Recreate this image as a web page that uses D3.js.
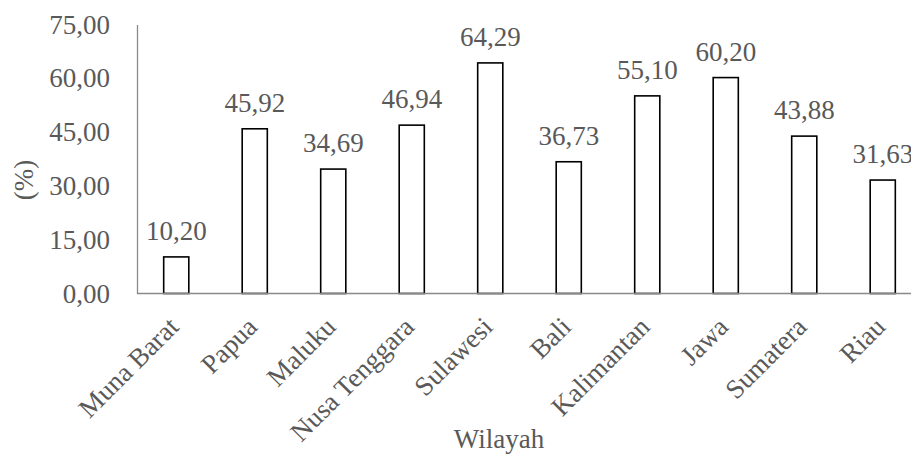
<!DOCTYPE html>
<html><head><meta charset="utf-8">
<script src="https://cdn.jsdelivr.net/npm/d3@7"></script>
<style>body{margin:0;background:#fff}svg{display:block}text{font-family:"Liberation Serif","Times New Roman",serif;fill:#595959}</style>
</head><body>
<svg id="c" width="911" height="461"></svg>
<script>
const categories = ["Muna Barat","Papua","Maluku","Nusa Tenggara","Sulawesi","Bali","Kalimantan","Jawa","Sumatera","Riau"];
const values = [10.20,45.92,34.69,46.94,64.29,36.73,55.10,60.20,43.88,31.63];
const yTicks = [0,15,30,45,60,75];
const yTitle = "(%)";
const xTitle = "Wilayah";

const svg = d3.select("#c");
const x = d3.scaleBand().domain(categories).range([137,922]).paddingInner(0.68).paddingOuter(0.34);
const y = d3.scaleLinear().domain([0,75]).range([293.5,24.5]);
const fmt = v => d3.format(".2f")(v).replace(".", ",");

// y axis
const ya = svg.append("g").attr("transform","translate(137,0)")
  .call(d3.axisLeft(y).tickValues(yTicks).tickSize(0).tickPadding(27).tickFormat(fmt));
ya.select(".domain").attr("stroke","#898989").attr("stroke-width",1.3);
ya.selectAll("text").attr("font-size",27).attr("fill","#595959").attr("font-family","Liberation Serif");

// bars
svg.append("g").selectAll("rect").data(values).join("rect")
  .attr("x",(d,i)=>x(categories[i]))
  .attr("y",d=>y(d))
  .attr("width",x.bandwidth())
  .attr("height",d=>y(0)-y(d))
  .attr("fill","#fff").attr("stroke","#000").attr("stroke-width",1.6);

// x axis line
svg.append("line").attr("x1",137).attr("x2",922).attr("y1",y(0)).attr("y2",y(0))
  .attr("stroke","#898989").attr("stroke-width",1.3);

// value labels
svg.append("g").selectAll("text").data(values).join("text")
  .attr("x",(d,i)=>x(categories[i])+x.bandwidth()/2)
  .attr("y",d=>y(d)-17)
  .attr("text-anchor","middle").attr("font-size",27)
  .text(d=>fmt(d));

// x tick labels
svg.append("g").selectAll("text").data(categories).join("text")
  .attr("transform",d=>`translate(${x(d)+x.bandwidth()/2+4},${y(0)+35}) rotate(-45)`)
  .attr("text-anchor","end").attr("font-size",27)
  .text(d=>d);

svg.append("text").attr("x",499).attr("y",448).attr("text-anchor","middle").attr("font-size",27).text(xTitle);
svg.append("text").attr("transform","translate(33,180) rotate(-90)").attr("text-anchor","middle").attr("font-size",27).text(yTitle);
</script>
</body></html>
